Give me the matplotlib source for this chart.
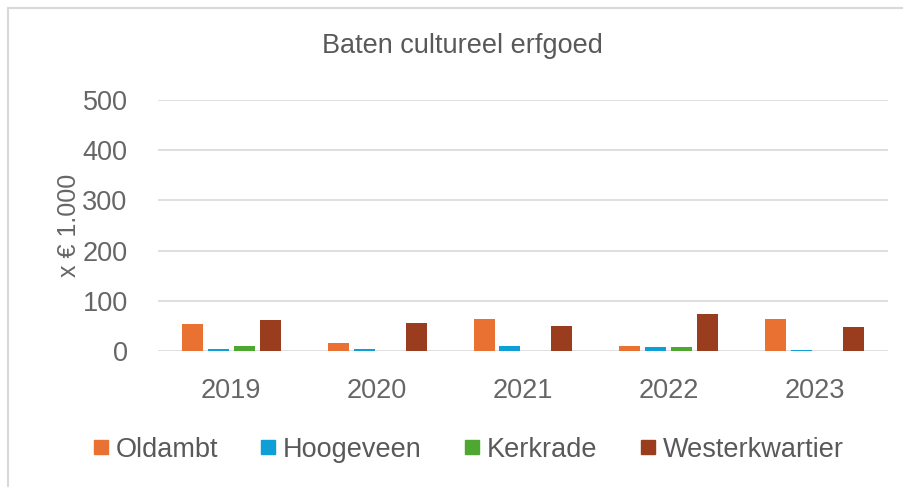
import numpy as np
import matplotlib.pyplot as plt
from matplotlib.lines import Line2D

plt.rcParams['font.family'] = ['Liberation Sans', 'DejaVu Sans']

jaren = ['2019', '2020', '2021', '2022', '2023']
gemeenten = ['Oldambt', 'Hoogeveen', 'Kerkrade', 'Westerkwartier']
oldambt = [54, 17, 63, 11, 63]
hoogeveen = [5, 4, 10, 9, 3]
kerkrade = [10, 0, 0, 9, 0]
westerkwartier = [62, 55, 50, 73, 49]
kleuren = ['#E97132', '#0F9ED5', '#4EA72E', '#9A3D1F']

fig = plt.figure(figsize=(9.04, 4.87), dpi=100)
ax = fig.add_axes([0.175, 0.279, 0.807, 0.516])

x = np.arange(len(jaren))
stap = 0.178
breedte = 0.144
reeksen = [oldambt, hoogeveen, kerkrade, westerkwartier]
for i, (naam, waarden) in enumerate(zip(gemeenten, reeksen)):
    ax.bar(x + (i - 1.5) * stap, waarden, width=breedte, color=kleuren[i], label=naam, zorder=3)

ax.set_xlim(-0.5, len(jaren) - 0.5)
ax.set_ylim(0, 500)
ax.set_yticks(range(0, 501, 100))
ax.set_xticks(x)
ax.set_xticklabels(jaren)
ax.grid(axis='y', color='#d9d9d9', linewidth=1.2, zorder=0)
for s in ax.spines.values():
    s.set_visible(False)
ax.tick_params(length=0, labelsize=19.5, colors='#666666')
ax.tick_params(axis='x', pad=19)
ax.tick_params(axis='y', pad=22)
ax.set_ylabel('x € 1.000', fontsize=18, color='#666666', labelpad=1)

fig.text(0.512, 0.905, 'Baten cultureel erfgoed', ha='center', va='center', fontsize=19.5, color='#595959')

handles = [Line2D([], [], marker='s', linestyle='', markersize=10, color=c) for c in kleuren]
fig.legend(handles, gemeenten, loc='center', bbox_to_anchor=(0.517, 0.077), ncol=4, frameon=False,
           fontsize=19.5, labelcolor='#595959', handlelength=0.7, handletextpad=0.2, columnspacing=1.5)

# rand van de grafiek
fig.add_artist(Line2D([0.009, 1.0], [0.984, 0.984], color='#d9d9d9', linewidth=1.5))
fig.add_artist(Line2D([0.009, 0.009], [0.0, 0.984], color='#d9d9d9', linewidth=1.5))

fig.savefig('out.png', dpi=100)
